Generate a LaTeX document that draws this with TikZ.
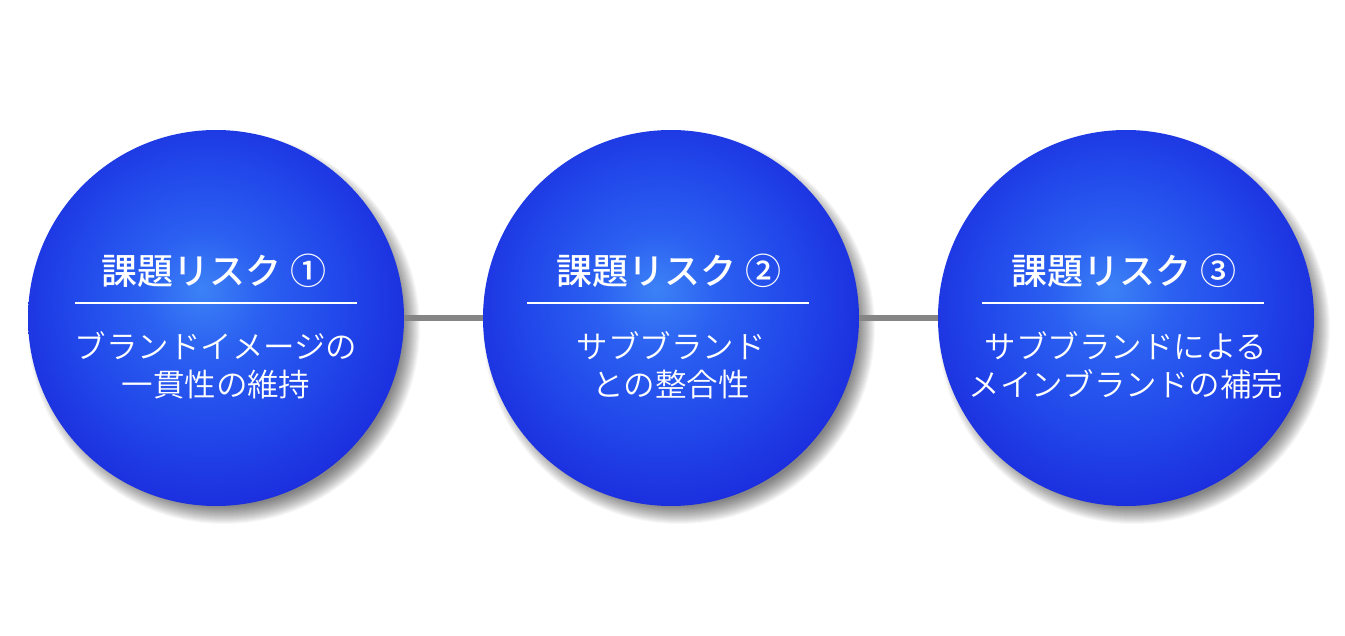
\documentclass[tikz,border=0pt]{standalone}
\usepackage{fontspec}
\newfontfamily\jpm{Noto Sans CJK JP Medium}
\newfontfamily\jpl{Noto Sans CJK JP DemiLight}
\usetikzlibrary{calc}
\definecolor{ballA}{HTML}{3C82F6}
\definecolor{ballB}{HTML}{2B60F1}
\definecolor{ballC}{HTML}{2147EA}
\definecolor{ballD}{HTML}{1B2CDD}
\definecolor{connGray}{HTML}{858585}
\pgfdeclareradialshading{riskball}{\pgfpoint{-2bp}{4bp}}{color(0bp)=(ballA); color(8bp)=(ballB); color(18bp)=(ballC); color(28bp)=(ballD); color(50bp)=(ballD)}
\tikzset{
  riskcircle/.style={circle, minimum size=376pt, inner sep=0pt, shading=riskball},
  shadowring/.style={fill=black, opacity=0.032},
  conn/.style={draw=connGray, line width=5.5pt},
  titletext/.style={text=white, font=\jpm\fontsize{36}{40}\selectfont, inner sep=0pt},
  bodytext/.style={text=white, font=\jpl\fontsize{31.5}{38}\selectfont, align=center, inner sep=0pt},
  sepline/.style={draw=white, line width=1.3pt}
}
\begin{document}
\begin{tikzpicture}[x=1pt,y=-1pt]
\useasboundingbox[fill=white] (0,0) rectangle (1345,636);
\coordinate (p1) at (216,318);
\coordinate (p2) at (671,318);
\coordinate (p3) at (1126,318);
\foreach \p in {p1,p2,p3}{
  \foreach \k in {0,...,18}{
    \fill[shadowring] ($(\p)+(8,10)$) circle ({178+\k});
  }
}
\node[riskcircle] (c1) at (p1) {};
\node[riskcircle] (c2) at (p2) {};
\node[riskcircle] (c3) at (p3) {};
\draw[conn] (c1.east) -- (c2.west);
\draw[conn] (c2.east) -- (c3.west);
% circle 1
\node[titletext] (t1) at (214,271) {課題リスク\hspace{0.25em}①};
\coordinate (s1a) at (75,303); \coordinate (s1b) at (357,303);
\draw[sepline] (s1a) -- (s1b);
\node[bodytext] (b1) at (216,365) {ブランドイメージの\\一貫性の維持};
% circle 2
\node[titletext] (t2) at (669,271) {課題リスク\hspace{0.25em}②};
\coordinate (s2a) at (527,303); \coordinate (s2b) at (809,303);
\draw[sepline] (s2a) -- (s2b);
\node[bodytext] (b2) at (671,365) {サブブランド\\との整合性};
% circle 3
\node[titletext] (t3) at (1124,271) {課題リスク\hspace{0.25em}③};
\coordinate (s3a) at (982,303); \coordinate (s3b) at (1264,303);
\draw[sepline] (s3a) -- (s3b);
\node[bodytext] (b3) at (1126,365) {サブブランドによる\\メインブランドの補完};
\end{tikzpicture}
\end{document}
